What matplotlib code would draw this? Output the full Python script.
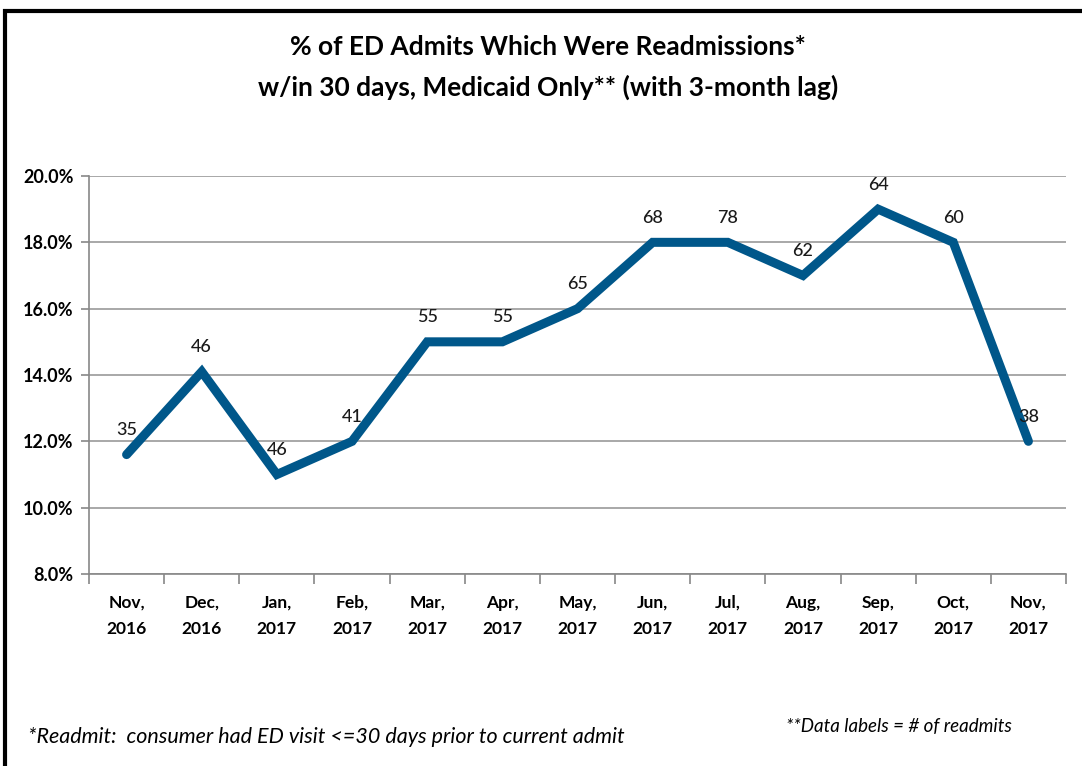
import numpy as np
import matplotlib.pyplot as plt
from matplotlib.patches import Rectangle

months = ["Nov,\n2016", "Dec,\n2016", "Jan,\n2017", "Feb,\n2017", "Mar,\n2017",
          "Apr,\n2017", "May,\n2017", "Jun,\n2017", "Jul,\n2017", "Aug,\n2017",
          "Sep,\n2017", "Oct,\n2017", "Nov,\n2017"]
pct = [11.6, 14.1, 11.0, 12.0, 15.0, 15.0, 16.0, 18.0, 18.0, 17.0, 19.0, 18.0, 12.0]
readmits = [35, 46, 46, 41, 55, 55, 65, 68, 78, 62, 64, 60, 38]

plt.rcParams['font.family'] = ['Lato', 'DejaVu Sans']

fig = plt.figure(figsize=(10.82, 7.66), dpi=100)
W, H = 1082, 766

# outer frame
fig.patches.append(Rectangle((5 / W, -0.05), 1.2, (766 - 11) / H + 0.05,
                             transform=fig.transFigure, fill=False,
                             edgecolor='black', linewidth=3))

ax = fig.add_axes([89 / W, (H - 574) / H, (1066 - 89) / W, (574 - 176) / H])
x = np.arange(len(months))
ax.plot(x, pct, color='#00578a', linewidth=6.5, solid_joinstyle='miter',
        solid_capstyle='round')

for xi, yi, n in zip(x, pct, readmits):
    ax.annotate(str(n), (xi, yi), xytext=(0, 12), textcoords='offset points',
                ha='center', va='bottom', fontsize=13, fontweight='medium',
                color='#1a1a1a')

ax.set_xlim(-0.5, len(months) - 0.5)
ax.set_ylim(8, 20)
ax.set_yticks(np.arange(8, 20.1, 2))
ax.set_yticklabels([f"{v:.1f}%" for v in np.arange(8, 20.1, 2)],
                   fontsize=13, fontweight='bold')
ax.set_xticks(x)
ax.set_xticklabels(months, fontsize=12.5, fontweight='bold', linespacing=1.75)
ax.set_xticks(np.arange(-0.5, len(months)), minor=True)
ax.tick_params(axis='x', which='major', length=0, pad=15)
ax.tick_params(axis='x', which='minor', length=7, color='#888888', width=1.2)
ax.tick_params(axis='y', length=6, color='#888888', width=1.2, pad=5)
ax.grid(axis='y', color='#999999', linewidth=1.2)
ax.set_axisbelow(True)
for s in ['top', 'right']:
    ax.spines[s].set_visible(False)
for s in ['left', 'bottom']:
    ax.spines[s].set_color('#888888')
    ax.spines[s].set_linewidth(1.2)

fig.text(548 / W, 1 - 47 / H, "% of ED Admits Which Were Readmissions*",
         ha='center', va='center', fontsize=19, fontweight='bold')
fig.text(548 / W, 1 - 87 / H, "w/in 30 days, Medicaid Only** (with 3-month lag)",
         ha='center', va='center', fontsize=19, fontweight='bold')

fig.text(28 / W, 1 - 737 / H,
         "*Readmit:  consumer had ED visit <=30 days prior to current admit",
         ha='left', va='center', fontsize=15.5, style='italic')
fig.text(786 / W, 1 - 727 / H, "**Data labels = # of readmits",
         ha='left', va='center', fontsize=13.5, style='italic')

fig.savefig('out.png', dpi=100)
